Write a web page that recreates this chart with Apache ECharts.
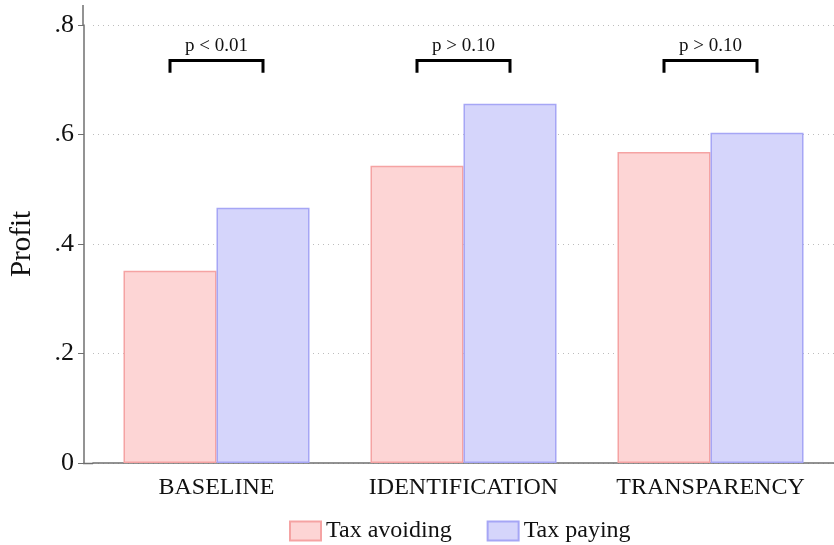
<!DOCTYPE html>
<html>
<head>
<meta charset="utf-8">
<script src="https://cdn.jsdelivr.net/npm/echarts@6/dist/echarts.min.js"></script>
<style>
  html, body { margin: 0; padding: 0; background: #fff; }
  #chart { width: 834px; height: 545px; }
</style>
</head>
<body>
<div id="chart"></div>
<script>
// data
var categories = ['BASELINE', 'IDENTIFICATION', 'TRANSPARENCY']
var taxAvoiding = [0.351, 0.543, 0.568]
var taxPaying = [0.466, 0.656, 0.603]
var pLabels = ['p < 0.01', 'p > 0.10', 'p > 0.10']
// bracket: [category, top of bracket, bottom of ticks, text centre]
var brackets = [[0, 0.735, 0.713, 0.761], [1, 0.735, 0.713, 0.761], [2, 0.735, 0.713, 0.761]]

var FONT = '"Liberation Serif", "DejaVu Serif", serif'
var AXIS_COLOR = '#6f6f6f'
var BAR_W = 93

var chart = echarts.init(document.getElementById('chart'), null, { renderer: 'canvas' })

chart.setOption({
  backgroundColor: '#fff',
  animation: false,
  grid: { left: 92, right: -3, top: 25, bottom: 82, containLabel: false },
  legend: {
    data: ['Tax avoiding', 'Tax paying'],
    left: 284,
    top: 514,
    icon: 'rect',
    itemWidth: 31,
    itemHeight: 19,
    itemGap: 35,
    textStyle: { fontFamily: FONT, fontSize: 24, color: '#111' }
  },
  xAxis: {
    type: 'category',
    data: categories,
    axisLine: { lineStyle: { color: AXIS_COLOR, width: 1.5 } },
    axisTick: { show: false },
    axisLabel: { interval: 0, hideOverlap: false, fontFamily: FONT, fontSize: 24, color: '#111', margin: 13 }
  },
  yAxis: {
    type: 'value',
    min: 0,
    max: 0.8,
    interval: 0.2,
    offset: 9,
    name: 'Profit',
    nameLocation: 'middle',
    nameRotate: 90,
    nameGap: 47,
    nameTextStyle: { fontFamily: FONT, fontSize: 29, color: '#111' },
    axisLine: { show: true, lineStyle: { color: AXIS_COLOR, width: 1.5 } },
    axisTick: { show: true, length: 6, lineStyle: { color: AXIS_COLOR } },
    axisLabel: {
      fontFamily: FONT, fontSize: 26, color: '#111', margin: 10,
      formatter: function (v) { return v === 0 ? '0' : String(+v.toFixed(1)).replace(/^0/, '') }
    },
    splitLine: { show: true, lineStyle: { type: [1, 4], color: '#bdbdbd', width: 1 } }
  },
  graphic: [
    // Stata axes run a little past the plot region
    { type: 'line', shape: { x1: 83, y1: 5, x2: 83, y2: 26 }, style: { stroke: AXIS_COLOR, lineWidth: 1.5 } },
    { type: 'line', shape: { x1: 83, y1: 463.5, x2: 93, y2: 463.5 }, style: { stroke: AXIS_COLOR, lineWidth: 1.5 } }
  ],
  series: [
    {
      name: 'Tax avoiding',
      type: 'bar',
      data: taxAvoiding,
      barWidth: BAR_W,
      barGap: '0%',
      itemStyle: { color: '#fdd5d5', borderColor: '#f5a3a3', borderWidth: 1.5 }
    },
    {
      name: 'Tax paying',
      type: 'bar',
      data: taxPaying,
      barWidth: BAR_W,
      itemStyle: { color: '#d5d5fb', borderColor: '#a6a6f5', borderWidth: 1.5 }
    },
    {
      name: 'brackets',
      type: 'custom',
      data: brackets,
      silent: true,
      z: 5,
      renderItem: function (params, api) {
        var top = api.coord([api.value(0), api.value(1)])
        var bot = api.coord([api.value(0), api.value(2)])
        var txt = api.coord([api.value(0), api.value(3)])
        var cx = top[0]
        var h = BAR_W / 2
        return {
          type: 'group',
          children: [
            {
              type: 'polyline',
              shape: { points: [[cx - h, bot[1]], [cx - h, top[1]], [cx + h, top[1]], [cx + h, bot[1]]] },
              style: { stroke: '#000', lineWidth: 3, fill: null }
            },
            {
              type: 'text',
              x: cx,
              y: txt[1],
              style: {
                text: pLabels[params.dataIndex],
                font: '19px ' + FONT,
                fill: '#111',
                align: 'center',
                verticalAlign: 'middle'
              }
            }
          ]
        }
      }
    }
  ]
})
</script>
</body>
</html>
